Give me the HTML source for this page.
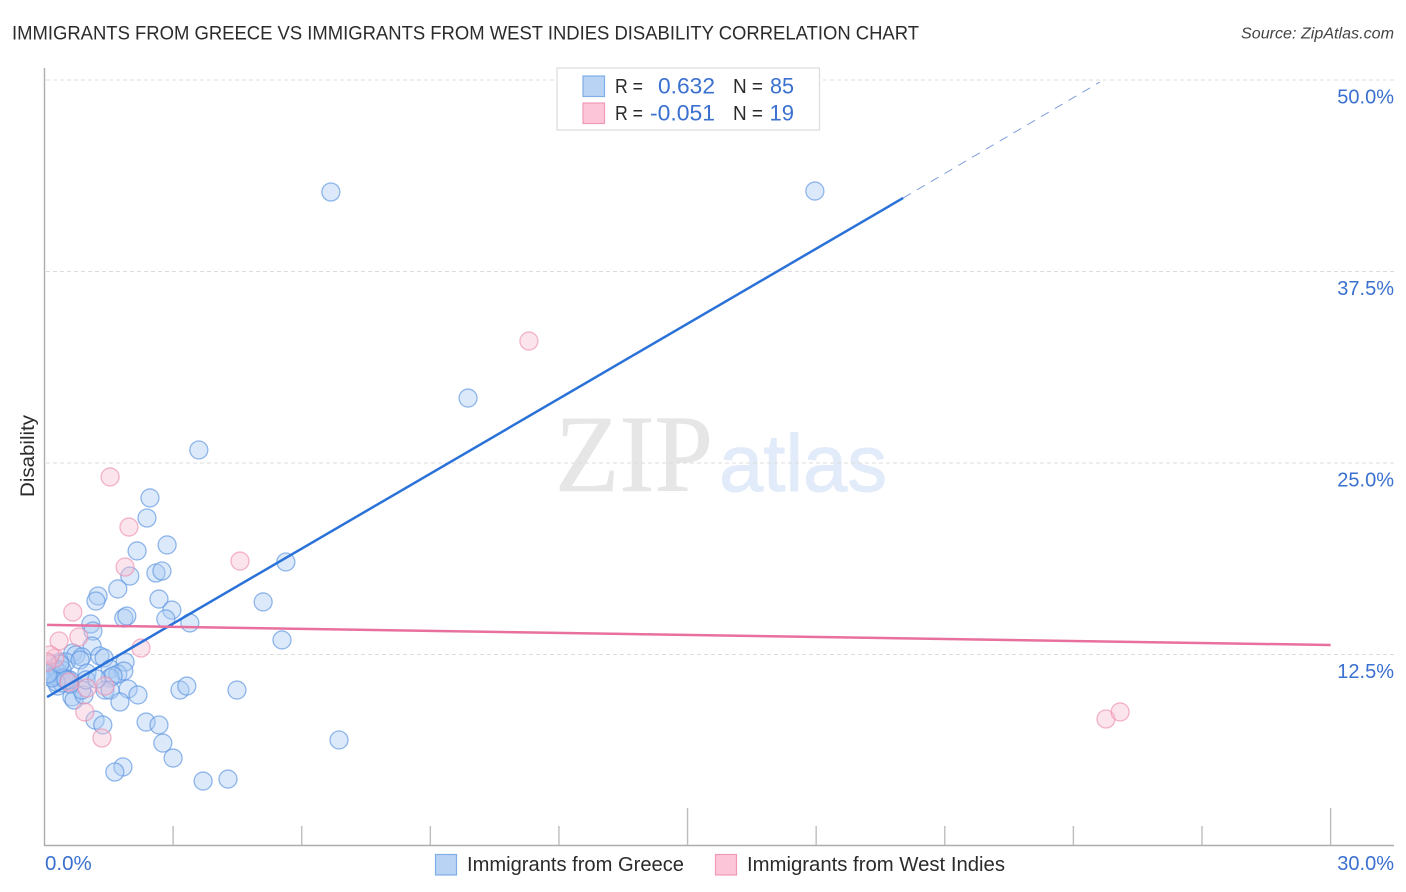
<!DOCTYPE html>
<html lang="en">
<head>
<meta charset="utf-8">
<title>Immigrants from Greece vs Immigrants from West Indies Disability Correlation Chart</title>
<style>
html,body{margin:0;padding:0;background:#fff;}
svg{display:block;font-family:"Liberation Sans",sans-serif;}
</style>
</head>
<body>
<svg id="chart" xmlns="http://www.w3.org/2000/svg" width="1406" height="892" viewBox="0 0 1406 892">
  <defs>
    <clipPath id="plot-clip"><rect x="46" y="60" width="1348" height="785"/></clipPath>
  </defs>
  <text x="12" y="39.5" font-size="19.5" fill="#2b2b2b" textLength="907" lengthAdjust="spacingAndGlyphs">IMMIGRANTS FROM GREECE VS IMMIGRANTS FROM WEST INDIES DISABILITY CORRELATION CHART</text>
  <text x="1394" y="38.5" font-size="15.5" font-style="italic" fill="#444" text-anchor="end" textLength="153" lengthAdjust="spacingAndGlyphs">Source: ZipAtlas.com</text>
  <g>
    <text x="555" y="491" font-family="'Liberation Serif',serif" font-size="110" fill="#e6e6e6" stroke="#e6e6e6" stroke-width="0.6" textLength="158" lengthAdjust="spacingAndGlyphs">ZIP</text>
    <text x="719" y="491" font-size="81" fill="#e2ebf9" stroke="#e2ebf9" stroke-width="1" textLength="168" lengthAdjust="spacingAndGlyphs">atlas</text>
  </g>
  <g id="grid"></g>
  <g id="axes"></g>
  <g clip-path="url(#plot-clip)">
    <g id="blue-points"></g>
    <g id="pink-points"></g>
  </g>
  <g id="trends"></g>
  <g id="labels"></g>
  <text transform="translate(34,456) rotate(-90)" font-size="19" fill="#2b2b2b" text-anchor="middle" textLength="82" lengthAdjust="spacingAndGlyphs">Disability</text>

  <g>
    <rect x="557" y="68" width="262.5" height="62" fill="#fff" stroke="#dcdcdc" stroke-width="1.2"/>
    <rect x="583" y="76" width="21.5" height="20.5" fill="#b9d3f5" stroke="#80aee6" stroke-width="1.2"/>
    <rect x="583" y="103" width="21.5" height="20.5" fill="#fcc6d8" stroke="#f09ab7" stroke-width="1.2"/>
    <g font-size="20" fill="#2b2b2b">
      <text x="615" y="93" textLength="28" lengthAdjust="spacingAndGlyphs">R =</text>
      <text x="733" y="93" textLength="30" lengthAdjust="spacingAndGlyphs">N =</text>
      <text x="615" y="120" textLength="28" lengthAdjust="spacingAndGlyphs">R =</text>
      <text x="733" y="120" textLength="30" lengthAdjust="spacingAndGlyphs">N =</text>
    </g>
    <g font-size="22" fill="#3a70cf" text-anchor="end">
      <text x="715" y="93.5" textLength="57" lengthAdjust="spacingAndGlyphs">0.632</text>
      <text x="794" y="93.5" textLength="24" lengthAdjust="spacingAndGlyphs">85</text>
      <text x="715" y="120.5" textLength="65" lengthAdjust="spacingAndGlyphs">-0.051</text>
      <text x="794" y="120.5">19</text>
    </g>
  </g>

  <g>
    <rect x="435.5" y="854.5" width="21" height="20.5" fill="#b9d3f5" stroke="#80aee6" stroke-width="1.2"/>
    <text x="467" y="871" font-size="20" fill="#2b2b2b" textLength="217" lengthAdjust="spacingAndGlyphs">Immigrants from Greece</text>
    <rect x="715.5" y="854.5" width="21" height="20.5" fill="#fcc6d8" stroke="#f09ab7" stroke-width="1.2"/>
    <text x="747" y="871" font-size="20" fill="#2b2b2b" textLength="258" lengthAdjust="spacingAndGlyphs">Immigrants from West Indies</text>
  </g>
</svg>
<script>
var greeceX = [6.68,17.97,9.88,3.60,2.46,2.39,2.16,2.86,2.60,2.74,1.99,1.71,1.25,1.20,2.67,2.97,2.83,3.39,1.85,1.92,5.10,5.63,5.54,1.08,1.13,1.11,0.66,0.73,0.87,0.36,0.50,0.83,1.29,1.39,1.88,0.99,1.53,1.71,1.85,1.53,1.60,1.95,1.41,1.53,2.18,1.76,3.16,3.32,4.49,2.37,2.67,1.18,1.36,2.76,3.00,6.87,1.83,1.64,3.70,4.28,0.64,0.69,0.92,0.87,0.59,0.55,0.31,0.41,0.08,0.17,0.24,0.13,0.03,0.22,0.31,0.41,0.45,0.59,0.97,0.27,0.17,0.08,0.36,0.50,1.22];
var greeceY = [42.69,42.75,29.24,25.85,22.72,21.41,19.26,19.65,17.82,17.95,17.62,16.78,16.32,15.99,16.12,15.40,14.82,14.56,14.88,15.01,15.93,18.54,13.45,14.49,14.03,13.05,12.60,12.47,12.34,12.01,12.01,12.14,12.40,12.27,12.01,11.29,11.55,11.23,11.42,10.97,11.10,10.25,10.18,10.18,9.86,9.40,10.18,10.44,10.18,8.09,7.90,8.22,7.90,6.72,5.74,6.92,5.16,4.83,4.24,4.37,9.73,9.53,9.86,10.18,10.57,10.84,10.44,10.64,11.10,11.36,11.62,11.88,11.49,11.10,11.36,11.49,10.97,10.84,10.84,10.70,10.97,11.23,11.88,10.84,10.90];
var westIndiesX = [11.30,1.53,1.97,4.56,1.88,0.66,0.80,0.34,2.25,0.24,0.13,0.06,0.57,1.41,0.99,0.94,1.34,24.76,25.09];
var westIndiesY = [32.96,24.09,20.82,18.60,18.21,15.27,13.64,13.38,12.92,12.27,12.47,12.00,10.70,10.44,10.31,8.75,7.05,8.29,8.75];
var greeceTrendX = [0.06,20.03];
var greeceTrendY = [9.72,42.30];
var greeceProjectionX = [20.03,24.62];
var greeceProjectionY = [42.30,49.87];
var westIndiesTrendX = [0.06,30];
var westIndiesTrendY = [14.43,13.12];
var yTicks = [12.5,25,37.5,50];
var yTickLabels = ["12.5%","25.0%","37.5%","50.0%"];
var xTicks = [3,6,9,12,15,18,21,24,27,30];
var xMajorTicks = [15,30];
var xEndLabels = ["0.0%","30.0%"];

var NS = 'http://www.w3.org/2000/svg';
function xs(v){ return 44.5 + v * 42.87; }
function ys(v){ return 846 - v * 15.32; }
function make(tag, parentId, attrs){
  var el = document.createElementNS(NS, tag);
  for (var k in attrs) el.setAttribute(k, attrs[k]);
  document.getElementById(parentId).appendChild(el);
  return el;
}

yTicks.forEach(function(t, i){
  var g = make('line', 'grid', {x1:46, x2:1394, y1:ys(t), y2:ys(t), stroke:'#dcdcdc', 'stroke-width':1, 'stroke-dasharray':'4 3'});
  
  
  var l = make('text', 'labels', {x:1394, y:ys(t) + 23.5, 'font-size':20, fill:'#3a70cf', 'text-anchor':'end'});
  l.textContent = yTickLabels[i];
  
  
});

var yAxis = make('line', 'axes', {x1:44.5, x2:44.5, y1:68, y2:846, stroke:'#adadad', 'stroke-width':1.4});


var xAxis = make('line', 'axes', {x1:44, x2:1394, y1:845.5, y2:845.5, stroke:'#adadad', 'stroke-width':1.4});


xTicks.forEach(function(t){
  var top = xMajorTicks.indexOf(t) >= 0 ? 808 : 826;
  var m = make('line', 'axes', {x1:xs(t), x2:xs(t), y1:top, y2:845, stroke:'#bdbdbd', 'stroke-width':1.4});
  
  
});

var x0Label = make('text', 'labels', {x:45, y:870, 'font-size':20.5, fill:'#3a70cf'});
x0Label.textContent = xEndLabels[0];


var x1Label = make('text', 'labels', {x:1394, y:870, 'font-size':20, fill:'#3a70cf', 'text-anchor':'end'});
x1Label.textContent = xEndLabels[1];



greeceX.forEach(function(v, i){
  var c = make('circle', 'blue-points', {cx:xs(v), cy:ys(greeceY[i]), r:9, fill:'#a9cbf3', 'fill-opacity':0.42, stroke:'#5a94e0', 'stroke-opacity':0.65, 'stroke-width':1.3});
  
  
});
westIndiesX.forEach(function(v, i){
  var c = make('circle', 'pink-points', {cx:xs(v), cy:ys(westIndiesY[i]), r:9, fill:'#f9bed2', 'fill-opacity':0.42, stroke:'#ec8fae', 'stroke-opacity':0.65, 'stroke-width':1.3});
  
  
});

var t1 = make('line', 'trends', {x1:xs(greeceTrendX[0]), y1:ys(greeceTrendY[0]), x2:xs(greeceTrendX[1]), y2:ys(greeceTrendY[1]), stroke:'#2a72d8', 'stroke-width':2.5});


var t2 = make('line', 'trends', {x1:xs(greeceProjectionX[0]), y1:ys(greeceProjectionY[0]), x2:xs(greeceProjectionX[1]), y2:ys(greeceProjectionY[1]), stroke:'#7f9fdc', 'stroke-width':1, 'stroke-dasharray':'9 7'});


var t3 = make('line', 'trends', {x1:xs(westIndiesTrendX[0]), y1:ys(westIndiesTrendY[0]), x2:xs(westIndiesTrendX[1]), y2:ys(westIndiesTrendY[1]), stroke:'#e8709e', 'stroke-width':2.5});


</script>
</body>
</html>
